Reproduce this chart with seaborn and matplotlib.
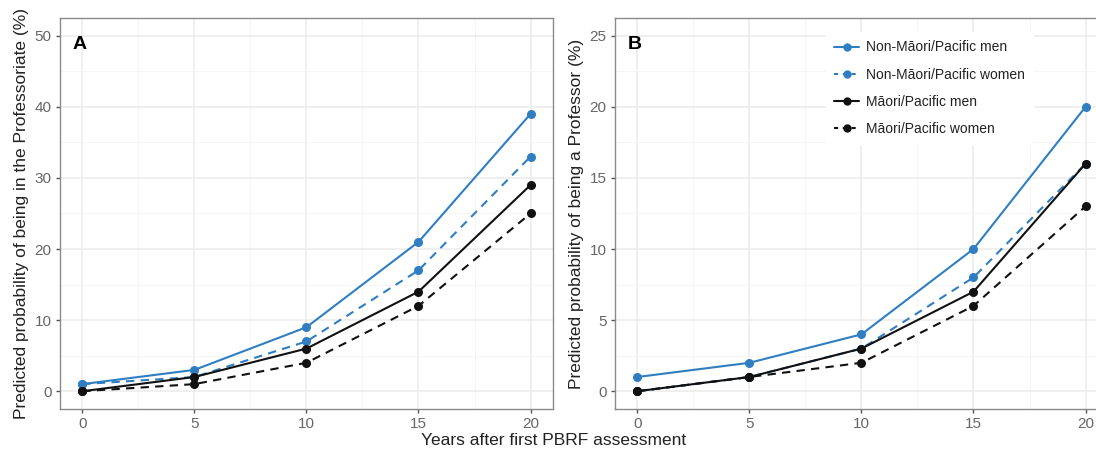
import matplotlib
matplotlib.use("Agg")
import matplotlib.pyplot as plt
import seaborn as sns
import pandas as pd

years = [0, 5, 10, 15, 20]
groups = ["Non-Māori/Pacific men", "Non-Māori/Pacific women",
          "Māori/Pacific men", "Māori/Pacific women"]

# Panel A: Professoriate (%)
a_nm_men = [1, 3, 9, 21, 39]
a_nm_women = [1, 2, 7, 17, 33]
a_m_men = [0, 2, 6, 14, 29]
a_m_women = [0, 1, 4, 12, 25]

# Panel B: Professor (%)
b_nm_men = [1, 2, 4, 10, 20]
b_nm_women = [0, 1, 3, 8, 16]
b_m_men = [0, 1, 3, 7, 16]
b_m_women = [0, 1, 2, 6, 13]

def to_df(series):
    rows = []
    for g, vals in zip(groups, series):
        for x, v in zip(years, vals):
            rows.append({"year": x, "value": v, "group": g})
    return pd.DataFrame(rows)

dfA = to_df([a_nm_men, a_nm_women, a_m_men, a_m_women])
dfB = to_df([b_nm_men, b_nm_women, b_m_men, b_m_women])

sns.set_theme(style="whitegrid")
plt.rcParams['font.family'] = ['Liberation Sans', 'DejaVu Sans']

blue = "#2f7ec1"
black = "#111111"
palette = {groups[0]: blue, groups[1]: blue, groups[2]: black, groups[3]: black}
dashes = {groups[0]: "", groups[1]: (4, 3), groups[2]: "", groups[3]: (4, 3)}
markers = {g: "o" for g in groups}

fig = plt.figure(figsize=(10.96, 4.5), dpi=100)
axA = fig.add_axes([0.0547, 0.0911, 0.4498, 0.869])
axB = fig.add_axes([0.5611, 0.0911, 0.4498, 0.869])

def style(ax, ymax, ystep, ylabel, tag):
    ax.set_xlim(-1, 21)
    ax.set_ylim(-ymax * 0.05, ymax * 1.05)
    ax.set_xticks(years)
    ax.set_yticks(list(range(0, ymax + 1, ystep)))
    ax.set_xticks([2.5, 7.5, 12.5, 17.5], minor=True)
    ax.set_yticks([ystep / 2 + i * ystep for i in range(ymax // ystep)], minor=True)
    ax.grid(True, which="major", color="#ebebeb", linewidth=1.1)
    ax.grid(True, which="minor", color="#f4f4f4", linewidth=0.6)
    ax.set_facecolor("white")
    for s in ax.spines.values():
        s.set_color("#8a8a8a")
        s.set_linewidth(1.0)
    ax.tick_params(axis="both", which="major", length=3, width=1, color="#555555",
                   labelsize=11, labelcolor="#666666", pad=3, bottom=True, left=True)
    ax.tick_params(axis="both", which="minor", length=0)
    ax.set_ylabel(ylabel, fontsize=12.5, color="#222222", labelpad=4)
    ax.set_xlabel("")
    ax.text(0.025, 0.955, tag, transform=ax.transAxes, fontsize=14,
            fontweight="bold", color="black", va="top", ha="left")

for ax, df in [(axA, dfA), (axB, dfB)]:
    sns.lineplot(data=df, x="year", y="value", hue="group", style="group",
                 hue_order=groups, style_order=groups, palette=palette,
                 dashes=dashes, markers=markers, markersize=6.5,
                 markeredgewidth=0, linewidth=1.5, ax=ax, legend=(ax is axB))

style(axA, 50, 10, "Predicted probability of being in the Professoriate (%)", "A")
style(axB, 25, 5, "Predicted probability of being a Professor (%)", "B")

leg = axB.legend(loc="upper left", bbox_to_anchor=(0.428, 0.964), frameon=True,
                 fontsize=10, handlelength=1.8, handletextpad=0.45,
                 labelspacing=0.95, borderpad=0.6, borderaxespad=0)
leg.get_frame().set_edgecolor("white")
leg.get_frame().set_facecolor("white")
leg.get_frame().set_alpha(1)
leg.get_frame().set_boxstyle("square", pad=0)
for h, g in zip(leg.legend_handles, groups):
    h.set_markersize(6)
    if "women" in g:
        h.set_dashes((2, 2.2))
for t in leg.get_texts():
    t.set_color("#222222")

fig.text(0.505, 0.004, "Years after first PBRF assessment", ha="center",
         va="bottom", fontsize=12.5, color="#222222")

fig.savefig("out.png", dpi=100)
